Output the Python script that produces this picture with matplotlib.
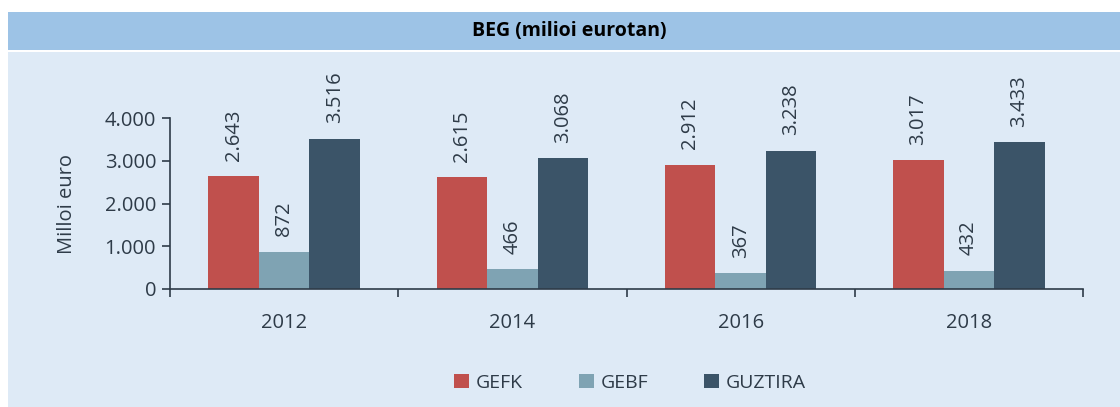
import matplotlib
matplotlib.use("Agg")
import matplotlib.pyplot as plt
from matplotlib.patches import Rectangle
import numpy as np

years = ["2012", "2014", "2016", "2018"]
series_names = ["GEFK", "GEBF", "GUZTIRA"]
gefk = [2643, 2615, 2912, 3017]
gebf = [872, 466, 367, 432]
guztira = [3516, 3068, 3238, 3433]
yticks = [0, 1000, 2000, 3000, 4000]
ytick_labels = ["0", "1.000", "2.000", "3.000", "4.000"]

colors = ["#C0504D", "#7FA3B3", "#3B5468"]
text_color = "#2E3B48"

plt.rcParams['font.family'] = ['Open Sans', 'DejaVu Sans']

W, H = 1120, 407
fig = plt.figure(figsize=(W / 100, H / 100), dpi=100)
fig.patch.set_facecolor("white")

def fx(px):
    return px / W

def fy(py):
    return 1 - py / H

# background bands
fig.patches.append(Rectangle((fx(8), fy(407)), fx(1120 - 8), (407 - 52) / H,
                             transform=fig.transFigure, facecolor="#DEEAF6",
                             edgecolor="none", zorder=-2))
fig.patches.append(Rectangle((fx(8), fy(50)), fx(1120 - 8), (50 - 12) / H,
                             transform=fig.transFigure, facecolor="#9DC3E6",
                             edgecolor="none", zorder=-2))
fig.text(fx(569), fy(31), "BEG (milioi eurotan)", ha="center", va="center",
         fontsize=14, fontweight="bold", color="black",
         family=['Liberation Sans Narrow', 'Open Sans', 'DejaVu Sans'])

# axes: x from 170 to 1083, y 0 at 289, 4000 at 118
ax = fig.add_axes([fx(170), fy(289), fx(1083 - 170), (289 - 118) / H])
ax.set_facecolor("none")
ax.set_xlim(0, len(years))
ax.set_ylim(0, 4000)

n = len(years)
x = np.arange(n) + 0.5
bw = 50.5 / 228
data = [gefk, gebf, guztira]
for i, (vals, c, name) in enumerate(zip(data, colors, series_names)):
    pos = x + (i - 1) * bw
    ax.bar(pos, vals, width=bw, color=c, label=name, zorder=2)
    for p, v in zip(pos, vals):
        lab = f"{v:,}".replace(",", ".")
        ax.annotate(lab, (p, v), xytext=(0, 11), textcoords="offset points",
                    rotation=90, ha="center", va="bottom", fontsize=14.5,
                    color=text_color, annotation_clip=False)

for s in ["top", "right"]:
    ax.spines[s].set_visible(False)
for s in ["left", "bottom"]:
    ax.spines[s].set_color(text_color)
    ax.spines[s].set_linewidth(1.2)

ax.set_yticks(yticks)
ax.set_yticklabels(ytick_labels)
ax.tick_params(axis="y", direction="out", length=6, width=1.2, colors=text_color,
               labelsize=14.5, pad=4)
ax.set_xticks(np.arange(n + 1))
ax.set_xticklabels([])
ax.tick_params(axis="x", direction="out", length=6, width=1.2, colors=text_color)
ax.set_xticks(x, minor=True)
ax.set_xticklabels(years, minor=True)
ax.tick_params(axis="x", which="minor", length=0, labelsize=14.5, pad=17,
               colors=text_color)

ax.set_ylabel("Milloi euro", fontsize=14.5, color=text_color, labelpad=20)

leg = fig.legend(loc="center", bbox_to_anchor=(fx(630), fy(383)), ncol=3,
                 frameon=False, fontsize=14, handlelength=0.75, handleheight=0.75,
                 handletextpad=0.35, columnspacing=2.9, labelcolor=text_color)

fig.savefig("out.png", dpi=100, facecolor=fig.get_facecolor())
